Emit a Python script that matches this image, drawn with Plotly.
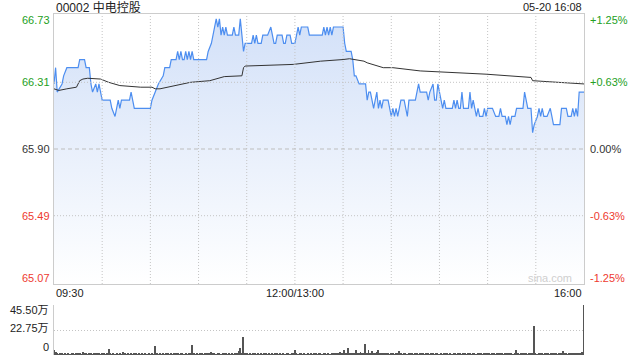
import plotly.graph_objects as go

# ---------------- data ----------------
title_text = "00002 中电控股"
stamp_text = "05-20 16:08"
watermark = "sina.com"
prev_close = 65.90

price_ticks = [66.73, 66.31, 65.90, 65.49, 65.07]
price_tick_text = ["66.73", "66.31", "65.90", "65.49", "65.07"]
pct_tick_text = ["+1.25%", "+0.63%", "0.00%", "-0.63%", "-1.25%"]
vol_ticks = [45.50, 22.75, 0]
vol_tick_text = ["45.50万", "22.75万", "0"]
time_ticks = [0, 150, 330]
time_labels = ["09:30", "12:00/13:00", "16:00"]
grid_minutes = [30, 60, 90, 120, 150, 180, 210, 240, 270, 300]

# minute index since 09:30 (lunch break removed) and price
price_min = [0, 1, 2, 5, 6, 8, 15, 16, 19, 20, 22, 23, 24, 26, 27, 28, 29, 30, 35, 36,
             38, 39, 40, 41, 42, 47, 48, 50, 60, 61, 63, 65, 68, 69, 72, 73, 76, 77, 78, 79,
             80, 81, 82, 83, 84, 85, 86, 87, 95, 96, 98, 99, 100, 101, 102, 103, 104, 105, 106, 107,
             108, 111, 112, 113, 115, 116, 117, 118, 119, 123, 124, 125, 126, 127, 129, 130, 133, 135, 136, 137,
             138, 139, 142, 143, 144, 145, 147, 148, 150, 152, 153, 154, 158, 159, 167, 168, 169, 170, 171, 172,
             173, 174, 180, 181, 182, 185, 186, 187, 188, 190, 194, 195, 196, 197, 198, 199, 200, 201, 202, 203,
             204, 205, 208, 209, 210, 211, 212, 213, 214, 215, 216, 218, 220, 221, 225, 227, 228, 232, 233, 234,
             236, 237, 238, 239, 240, 241, 242, 243, 244, 248, 249, 250, 251, 252, 253, 254, 255, 258, 259, 260,
             261, 262, 263, 264, 265, 267, 268, 269, 270, 273, 275, 277, 278, 279, 281, 282, 283, 284, 285, 287,
             288, 292, 293, 294, 295, 297, 298, 299, 301, 302, 303, 304, 305, 307, 309, 310, 311, 315, 316, 319,
             320, 322, 323, 324, 325, 326, 327, 330]
price_val = [66.30, 66.40, 66.25, 66.30, 66.35, 66.40, 66.40, 66.45, 66.45, 66.40, 66.40, 66.30, 66.25, 66.30, 66.25, 66.30, 66.25, 66.20, 66.20, 66.15,
             66.10, 66.15, 66.20, 66.15, 66.20, 66.20, 66.25, 66.15, 66.15, 66.20, 66.25, 66.30, 66.35, 66.40, 66.40, 66.45, 66.45, 66.50, 66.45, 66.50,
             66.45, 66.45, 66.50, 66.45, 66.50, 66.45, 66.50, 66.45, 66.45, 66.50, 66.55, 66.60, 66.65, 66.70, 66.65, 66.70, 66.60, 66.65, 66.60, 66.65,
             66.60, 66.60, 66.65, 66.60, 66.60, 66.70, 66.60, 66.50, 66.55, 66.55, 66.60, 66.55, 66.60, 66.55, 66.55, 66.60, 66.60, 66.65, 66.60, 66.55,
             66.55, 66.60, 66.60, 66.55, 66.55, 66.60, 66.60, 66.55, 66.55, 66.65, 66.60, 66.65, 66.65, 66.60, 66.60, 66.65, 66.60, 66.65, 66.60, 66.65,
             66.60, 66.65, 66.65, 66.55, 66.50, 66.50, 66.45, 66.35, 66.35, 66.30, 66.30, 66.20, 66.25, 66.25, 66.20, 66.15, 66.20, 66.25, 66.15, 66.20,
             66.15, 66.20, 66.20, 66.15, 66.10, 66.15, 66.10, 66.15, 66.10, 66.15, 66.20, 66.20, 66.10, 66.20, 66.20, 66.30, 66.25, 66.25, 66.20, 66.25,
             66.30, 66.20, 66.20, 66.30, 66.25, 66.20, 66.15, 66.20, 66.15, 66.15, 66.20, 66.15, 66.20, 66.15, 66.15, 66.25, 66.15, 66.15, 66.25, 66.15,
             66.20, 66.15, 66.10, 66.15, 66.10, 66.10, 66.15, 66.10, 66.15, 66.15, 66.10, 66.10, 66.15, 66.10, 66.10, 66.05, 66.10, 66.05, 66.10, 66.10,
             66.15, 66.15, 66.25, 66.20, 66.15, 66.15, 66.00, 66.05, 66.10, 66.15, 66.10, 66.15, 66.10, 66.10, 66.15, 66.10, 66.05, 66.05, 66.15, 66.15,
             66.10, 66.10, 66.15, 66.10, 66.15, 66.10, 66.25, 66.25]

avg_min = [0, 3, 8, 14, 16, 18, 21, 29, 34, 41, 54, 61, 63, 66, 85, 97, 106, 112, 117, 118,
           119, 149, 166, 180, 184, 193, 195, 205, 211, 228, 269, 297, 298, 330]
avg_val = [66.27, 66.26, 66.27, 66.28, 66.32, 66.33, 66.335, 66.33, 66.31, 66.29, 66.28, 66.28, 66.27, 66.27, 66.31, 66.32, 66.345, 66.35, 66.35, 66.40,
           66.41, 66.42, 66.44, 66.45, 66.455, 66.44, 66.43, 66.40, 66.40, 66.38, 66.36, 66.34, 66.32, 66.30]

# volume per minute, in 万 shares
volume = [4.5, 3.0, 1.2, 0.8, 1.5, 1.0, 0.6, 1.2, 0.9, 1.4,
          0.7, 1.1, 1.8, 0.9, 1.3, 2.2, 1.6, 0.8, 2.4, 1.1,
          1.5, 0.9, 1.9, 1.2, 0.7, 1.6, 2.0, 1.0, 1.4, 0.8,
          1.7, 1.2, 0.9, 1.5, 5.5, 1.1, 0.8, 1.3, 0.6, 1.0,
          0.9, 1.2, 0.7, 2.7, 1.1, 0.8, 1.6, 0.9, 1.2, 0.7,
          1.0, 1.4, 0.8, 1.1, 0.6, 1.3, 0.9, 1.0, 0.7, 1.2,
          0.8, 1.1, 0.9, 8.2, 1.0, 0.7, 1.2, 0.9, 1.5, 0.8,
          1.1, 1.9, 0.9, 1.3, 0.7, 1.6, 1.0, 1.2, 0.8, 2.0,
          1.1, 0.9, 1.4, 0.7, 1.2, 1.0, 9.0, 1.1, 0.8, 1.3,
          0.9, 1.5, 1.0, 0.7, 1.2, 2.1, 1.4, 1.0, 3.0, 1.6,
          1.2, 0.9, 1.8, 1.1, 0.8, 1.4, 1.0, 1.2, 0.7, 1.3,
          0.9, 1.1, 0.8, 1.5, 1.0, 3.5, 6.0, 1.2, 16.7, 1.5,
          1.1, 0.9, 1.3, 0.8, 1.0, 1.2, 0.7, 1.1, 0.9, 1.4,
          0.8, 1.0, 1.2, 0.7, 1.3, 0.9, 1.1, 0.8, 1.0, 1.2,
          0.9, 1.5, 0.8, 1.1, 0.7, 1.3, 1.0, 0.9, 1.2, 1.4,
          4.5, 1.2, 0.9, 1.6, 1.0, 0.8, 1.3, 0.7, 1.1, 0.9,
          1.4, 0.8, 1.0, 1.2, 0.7, 1.1, 1.3, 0.9, 1.0, 1.2,
          0.8, 1.1, 0.9, 1.4, 1.0, 1.6, 1.2, 2.0, 2.5, 1.1,
          1.3, 4.5, 1.8, 6.0, 1.2, 1.5, 2.2, 1.0, 5.0, 1.6,
          1.3, 3.0, 1.1, 1.8, 10.0, 1.4, 5.0, 1.2, 3.6, 1.5,
          1.1, 3.0, 4.5, 2.2, 1.3, 1.8, 1.0, 1.5, 1.2, 0.9,
          1.4, 1.1, 0.8, 1.3, 1.0, 3.6, 1.2, 0.9, 1.5, 1.1,
          0.8, 1.6, 1.0, 1.2, 0.9, 1.4, 1.1, 0.7, 1.3, 1.0,
          1.2, 0.8, 1.5, 1.0, 0.9, 1.3, 1.1, 0.7, 1.4, 1.0,
          0.9, 1.2, 0.8, 1.1, 1.5, 1.0, 0.7, 1.3, 0.9, 1.1,
          1.2, 0.8, 1.0, 1.4, 0.9, 1.1, 1.6, 0.8, 1.2, 1.0,
          0.9, 1.3, 1.1, 0.8, 1.5, 1.0, 1.2, 0.9, 1.4, 1.1,
          1.0, 1.2, 0.8, 1.6, 1.1, 0.9, 1.3, 1.0, 1.8, 1.2,
          0.9, 1.4, 1.1, 2.0, 1.0, 1.3, 0.8, 1.2, 4.5, 1.1,
          0.9, 1.5, 1.2, 1.0, 1.3, 0.8, 1.1, 1.4, 1.0, 26.4,
          1.2, 0.9, 1.5, 1.1, 1.3, 0.8, 1.6, 1.0, 1.2, 0.9,
          1.4, 1.1, 1.0, 1.3, 0.9, 1.2, 1.5, 3.6, 1.0, 1.2,
          0.9, 1.4, 1.1, 1.6, 1.0, 1.3, 1.8, 2.0, 1.2, 2.5, 45.5]
vol_min = list(range(len(volume)))

# ---------------- style ----------------
FONT = "Liberation Sans, Arial, Noto Sans CJK SC, sans-serif"
GREEN = "#23a023"
RED = "#ee3a2f"
DARK = "#333333"
tick_colors = [GREEN, GREEN, DARK, RED, RED]
edge_shift = [-6, 0, 0, 0, 6]
GRID = "#c4c4c4"
BORDER = "#cccccc"
LINE_BLUE = "#4d8ef0"
DOT = "1px,2px"

fig = go.Figure()

fig.add_trace(go.Scatter(
    x=price_min, y=price_val, mode="lines",
    line=dict(color=LINE_BLUE, width=1.2),
    fill="tozeroy",
    fillgradient=dict(type="vertical", start=price_ticks[-1], stop=price_ticks[0],
                      colorscale=[[0, "#ffffff"], [1, "#d2e0f8"]]),
    xaxis="x", yaxis="y", hoverinfo="skip", showlegend=False))

fig.add_trace(go.Scatter(
    x=avg_min, y=avg_val, mode="lines",
    line=dict(color="#333333", width=1),
    xaxis="x", yaxis="y", hoverinfo="skip", showlegend=False))

fig.add_trace(go.Bar(
    x=vol_min, y=volume, width=0.6,
    marker=dict(color="#555555", line=dict(width=0)),
    xaxis="x2", yaxis="y2", hoverinfo="skip", showlegend=False))

shapes = []
for m in grid_minutes:
    shapes.append(dict(type="line", xref="x", yref="y domain", x0=m, x1=m, y0=0, y1=1,
                       line=dict(color=GRID, width=1, dash=DOT), layer="above"))
for p in price_ticks[1:-1]:
    is_prev = abs(p - prev_close) < 1e-9
    shapes.append(dict(type="line", xref="x domain", yref="y", x0=0, x1=1, y0=p, y1=p,
                       line=dict(color="#bdbdbd" if is_prev else GRID, width=1,
                                 dash="4px,3px" if is_prev else DOT), layer="above"))

annotations = []
annotations.append(dict(text=title_text, xref="paper", yref="paper", x=0, y=1,
                        xanchor="left", yanchor="middle", yshift=7, xshift=0,
                        showarrow=False, font=dict(size=12, color="#222222", family=FONT)))
annotations.append(dict(text=stamp_text, xref="paper", yref="paper", x=1, y=1,
                        xanchor="right", yanchor="middle", yshift=7,
                        showarrow=False, font=dict(size=11, color="#222222", family=FONT)))
for p, t, pc, c, s in zip(price_ticks, price_tick_text, pct_tick_text, tick_colors, edge_shift):
    annotations.append(dict(text=t, xref="paper", yref="y", x=0, y=p, xanchor="right",
                            yanchor="middle", xshift=-2, yshift=s, showarrow=False,
                            font=dict(size=11, color=c, family=FONT)))
    annotations.append(dict(text=pc, xref="paper", yref="y", x=1, y=p, xanchor="left",
                            yanchor="middle", xshift=4, yshift=s, showarrow=False,
                            font=dict(size=11, color=c, family=FONT)))
vol_shift = [-5, 2, 8]
for v, t, s in zip(vol_ticks, vol_tick_text, vol_shift):
    annotations.append(dict(text=t, xref="paper", yref="y2", x=0, y=v, xanchor="right",
                            yanchor="middle", xshift=-3, yshift=s, showarrow=False,
                            font=dict(size=11, color="#222222", family=FONT)))
anchors = ["left", "center", "right"]
for m, t, a in zip(time_ticks, time_labels, anchors):
    annotations.append(dict(text=t, xref="x", yref="paper", x=m, y=0.2082, xanchor=a,
                            yanchor="top", yshift=-1, showarrow=False,
                            font=dict(size=11, color="#222222", family=FONT)))
annotations.append(dict(text=watermark, xref="paper", yref="y", x=1, y=price_ticks[-1],
                        xanchor="right", yanchor="bottom", xshift=-10, yshift=-2, showarrow=False,
                        font=dict(size=11, color="#cfcfcf", family=FONT)))

fig.update_layout(
    width=640, height=360,
    margin=dict(l=54, r=56, t=14, b=5),
    paper_bgcolor="white", plot_bgcolor="white",
    font=dict(family=FONT),
    showlegend=False,
    xaxis=dict(domain=[0, 1], range=[0, 330], showgrid=False, zeroline=False,
               showticklabels=False, ticks="", showline=True, mirror=True,
               linecolor=BORDER, linewidth=1, fixedrange=True),
    yaxis=dict(domain=[0.2082, 1], range=[price_ticks[-1], price_ticks[0]], showgrid=False,
               zeroline=False, showticklabels=False, ticks="", showline=True, mirror=True,
               linecolor=BORDER, linewidth=1, fixedrange=True),
    xaxis2=dict(domain=[0, 1], range=[0, 330.3], anchor="y2", showgrid=False, zeroline=False,
                showticklabels=False, ticks="", showline=False, fixedrange=True),
    yaxis2=dict(domain=[0, 0.1466], range=[0, vol_ticks[0]], anchor="x2",
                tickvals=vol_ticks[:2], showticklabels=False, ticks="",
                showgrid=True, gridcolor=GRID, griddash=DOT, gridwidth=1,
                zeroline=False, showline=True, linecolor=BORDER, linewidth=1,
                fixedrange=True),
    shapes=shapes,
    annotations=annotations,
    bargap=0,
)

fig.write_html("out.html")
